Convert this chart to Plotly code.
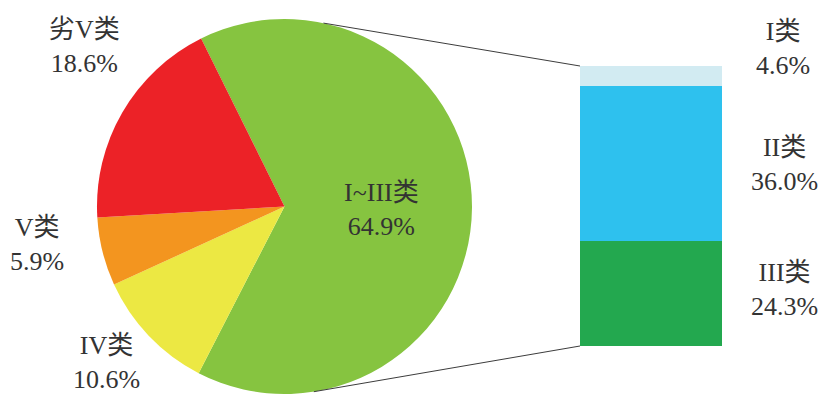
import math
import plotly.graph_objects as go

W, H = 825, 394

# Main pie: water-quality share by class
pie_labels = ["I~III类", "IV类", "V类", "劣V类"]
pie_values = [64.9, 10.6, 5.9, 18.6]
pie_colors = ["#86C440", "#ECE843", "#F3951F", "#EC2227"]

# Breakdown of the I~III share
bar_labels = ["III类", "II类", "I类"]
bar_values = [24.3, 36.0, 4.6]
bar_colors = ["#23A84F", "#2EC1EE", "#D2EBF2"]

FONT = "'Liberation Serif', 'DejaVu Serif', 'Noto Sans CJK SC', serif"
TEXT_COLOR = "#333333"

# pie placement (pixels)
cx, cy, r = 284.5, 206.5, 187.5
pie_dom_x = [(cx - r) / W, (cx + r) / W]
pie_dom_y = [(H - cy - r) / H, (H - cy + r) / H]

# first slice boundary sits a little left of 12 o'clock
rotation = -26.4

fig = go.Figure()
fig.add_trace(go.Pie(
    labels=pie_labels, values=pie_values,
    marker=dict(colors=pie_colors, line=dict(width=0)),
    sort=False, direction="clockwise", rotation=rotation,
    textinfo="none", hoverinfo="label+percent",
    domain=dict(x=pie_dom_x, y=pie_dom_y), showlegend=False,
))

# stacked bar
bar_top, bar_bot = 66, 346
bar_left, bar_right = 580, 722
total = sum(bar_values)
for lab, val, col in zip(bar_labels, bar_values, bar_colors):
    fig.add_trace(go.Bar(
        x=[0], y=[val], name=lab, width=1,
        marker=dict(color=col, line=dict(width=0)),
        xaxis="x", yaxis="y", showlegend=False,
    ))

fig.update_layout(
    barmode="stack",
    xaxis=dict(domain=[bar_left / W, bar_right / W], range=[-0.5, 0.5],
               visible=False, fixedrange=True),
    yaxis=dict(domain=[(H - bar_bot) / H, (H - bar_top) / H], range=[0, total],
               visible=False, fixedrange=True),
)

# connector lines from the I~III slice to the bar ends
def pie_point(deg_cw_from_top):
    a = math.radians(deg_cw_from_top)
    px = cx + r * math.sin(a)
    py = cy - r * math.cos(a)
    return px / W, (H - py) / H

top_pt = pie_point(12)
bot_pt = pie_point(171)
line_style = dict(color="#3C3C3C", width=1)
fig.add_shape(type="line", xref="paper", yref="paper", x0=top_pt[0], y0=top_pt[1],
              x1=bar_left / W, y1=(H - bar_top) / H, line=line_style)
fig.add_shape(type="line", xref="paper", yref="paper", x0=bot_pt[0], y0=bot_pt[1],
              x1=bar_left / W, y1=(H - bar_bot) / H, line=line_style)

# category labels
labels = [
    ("劣V类<br>18.6%", 84, 46),
    ("V类<br>5.9%", 37, 245),
    ("IV类<br>10.6%", 106, 362),
    ("I~III类<br>64.9%", 381, 210),
    ("I类<br>4.6%", 783, 48),
    ("II类<br>36.0%", 784, 164),
    ("III类<br>24.3%", 784, 289),
]
for text, x, y in labels:
    fig.add_annotation(
        text=text, x=x / W, y=(H - y) / H, xref="paper", yref="paper",
        xanchor="center", yanchor="middle", align="center", showarrow=False,
        font=dict(family=FONT, size=26, color=TEXT_COLOR),
    )

fig.update_layout(
    width=W, height=H,
    margin=dict(l=0, r=0, t=0, b=0),
    paper_bgcolor="white", plot_bgcolor="white",
)

fig.write_html("out.html")
